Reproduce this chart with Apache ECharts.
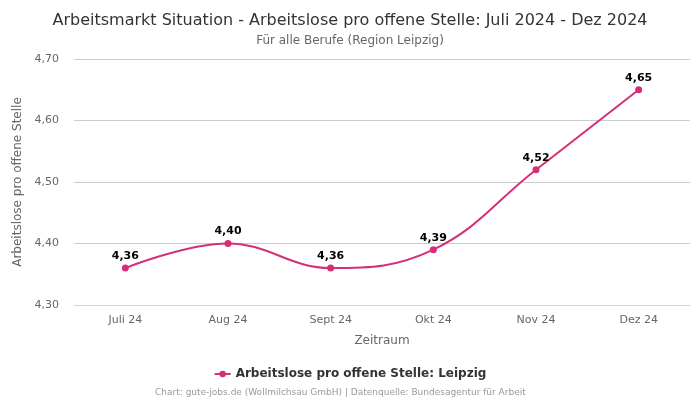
<!DOCTYPE html>
<html><head><meta charset="utf-8">
<script src="https://cdn.jsdelivr.net/npm/echarts@6/dist/echarts.min.js"></script>
<style>html,body{margin:0;padding:0;background:#fff}#c{width:700px;height:400px}</style>
</head><body><div id="c"></div>
<script>
const categories = ["Juli 24", "Aug 24", "Sept 24", "Okt 24", "Nov 24", "Dez 24"];
const values = [4.36, 4.40, 4.36, 4.39, 4.52, 4.65];
const seriesName = "Arbeitslose pro offene Stelle: Leipzig";
const fmt = v => v.toFixed(2).replace('.', ',');
const chart = echarts.init(document.getElementById('c'));
const F = "DejaVu Sans";
chart.setOption({
  animation: false,
  textStyle: {fontFamily: F},
  title: [
    {text: "Arbeitsmarkt Situation - Arbeitslose pro offene Stelle: Juli 2024 - Dez 2024", left: 'center', top: 8, textStyle: {fontFamily: F, fontSize: 16, fontWeight: 'normal', color: '#333'}},
    {text: "Für alle Berufe (Region Leipzig)", left: 'center', top: 30, textStyle: {fontFamily: F, fontSize: 12, fontWeight: 'normal', color: '#666'}},
    {text: "Chart: gute-jobs.de (Wollmilchsau GmbH) | Datenquelle: Bundesagentur für Arbeit", left: 150, top: 383, textStyle: {fontFamily: F, fontSize: 9, fontWeight: 'normal', color: '#999'}}
  ],
  legend: {bottom: 15, left: 'center', itemWidth: 16, itemHeight: 8, textStyle: {fontFamily: F, fontSize: 12, fontWeight: 'bold', color: '#333'}, data: [seriesName]},
  grid: {left: 74, right: 10, top: 59, bottom: 95},
  xAxis: {type: 'category', data: categories, boundaryGap: true,
    name: "Zeitraum", nameLocation: 'middle', nameGap: 30, nameTextStyle: {fontFamily: F, fontSize: 12, color: '#666'},
    axisLine: {lineStyle: {color: '#ccd6eb'}}, axisTick: {show: false},
    axisLabel: {fontFamily: F, fontSize: 11, color: '#666', margin: 10}},
  yAxis: {type: 'value', min: 4.3, max: 4.7, interval: 0.1,
    name: "Arbeitslose pro offene Stelle", nameLocation: 'middle', nameGap: 44, nameTextStyle: {fontFamily: F, fontSize: 12, color: '#666'},
    axisLabel: {fontFamily: F, fontSize: 11, color: '#666', formatter: v => fmt(v), margin: 15},
    splitLine: {lineStyle: {color: '#ccc'}}, axisLine: {show: false}, axisTick: {show: false}},
  series: [{
    name: seriesName, type: 'line', data: values, smooth: 0.4,
    symbol: 'circle', symbolSize: 7,
    itemStyle: {color: '#d4307a'}, lineStyle: {color: '#d4307a', width: 2},
    label: {show: true, position: 'top', distance: 3, formatter: p => fmt(p.value), fontFamily: F, fontSize: 11, fontWeight: 'bold', color: '#000'}
  }]
});
</script></body></html>
